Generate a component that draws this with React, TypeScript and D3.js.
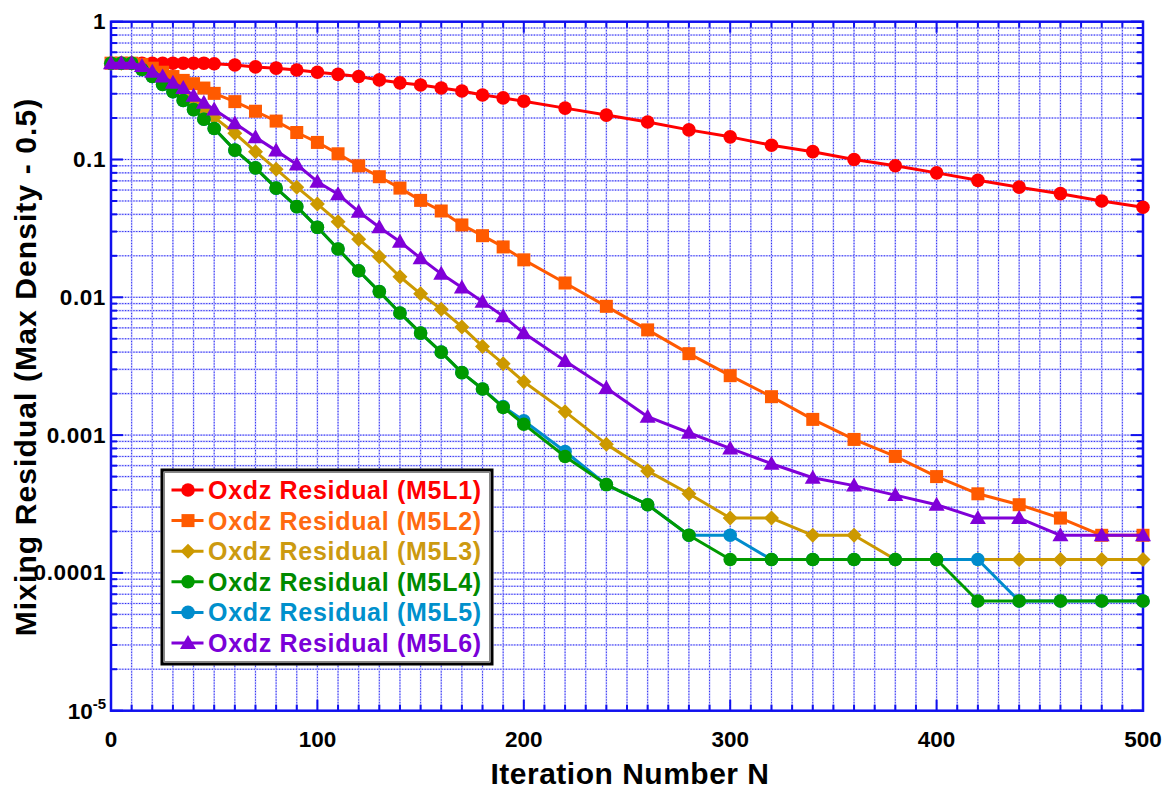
import React from "react";
import * as d3 from "d3";

const iterations = [0, 5, 10, 15, 20, 25, 30, 35, 40, 45, 50, 60, 70, 80, 90, 100, 110, 120, 130, 140, 150, 160, 170, 180, 190, 200, 220, 240, 260, 280, 300, 320, 340, 360, 380, 400, 420, 440, 460, 480, 500];

const m5l1 = [0.5, 0.5, 0.5, 0.5, 0.5, 0.5, 0.5, 0.5, 0.5, 0.5, 0.495, 0.485, 0.47, 0.46, 0.446, 0.43, 0.415, 0.4, 0.378, 0.36, 0.347, 0.33, 0.314, 0.294, 0.28, 0.265, 0.236, 0.21, 0.187, 0.164, 0.146, 0.127, 0.114, 0.1, 0.09, 0.08, 0.0706, 0.063, 0.0565, 0.05, 0.045];
const m5l2 = [0.5, 0.5, 0.5, 0.49, 0.46, 0.43, 0.4, 0.375, 0.355, 0.33, 0.302, 0.263, 0.224, 0.19, 0.157, 0.133, 0.11, 0.09, 0.075, 0.062, 0.0505, 0.0423, 0.0335, 0.028, 0.0232, 0.0187, 0.0127, 0.0086, 0.0058, 0.0039, 0.0027, 0.0019, 0.0013, 0.00093, 0.0007, 0.0005, 0.000375, 0.0003125, 0.00025, 0.0001875, 0.0001875];
const m5l3 = [0.5, 0.5, 0.5, 0.46, 0.42, 0.37, 0.33, 0.29, 0.258, 0.229, 0.202, 0.155, 0.114, 0.085, 0.063, 0.0475, 0.0354, 0.0264, 0.0197, 0.0141, 0.0106, 0.0082, 0.0061, 0.0044, 0.0033, 0.00244, 0.00148, 0.00086, 0.00055, 0.000375, 0.00025, 0.00025, 0.0001875, 0.0001875, 0.000125, 0.000125, 0.000125, 0.000125, 0.000125, 0.000125, 0.000125];
const m5l4 = [0.5, 0.5, 0.5, 0.45, 0.4, 0.35, 0.31, 0.268, 0.23, 0.196, 0.168, 0.117, 0.087, 0.062, 0.0455, 0.0322, 0.0224, 0.0156, 0.011, 0.0077, 0.0055, 0.004, 0.00284, 0.00216, 0.00159, 0.0012, 0.0007, 0.0004375, 0.0003125, 0.0001875, 0.000125, 0.000125, 0.000125, 0.000125, 0.000125, 0.000125, 0.0000625, 0.0000625, 0.0000625, 0.0000625, 0.0000625];
const m5l5 = [0.5, 0.5, 0.5, 0.45, 0.4, 0.35, 0.31, 0.268, 0.23, 0.196, 0.168, 0.117, 0.087, 0.062, 0.0455, 0.0322, 0.0224, 0.0156, 0.011, 0.0077, 0.0055, 0.004, 0.00284, 0.00216, 0.00161, 0.00127, 0.00076, 0.0004375, 0.0003125, 0.0001875, 0.0001875, 0.000125, 0.000125, 0.000125, 0.000125, 0.000125, 0.000125, 0.0000625, 0.0000625, 0.0000625, 0.0000625];
const m5l6 = [0.5, 0.5, 0.5, 0.477, 0.434, 0.4, 0.361, 0.33, 0.29, 0.258, 0.231, 0.183, 0.145, 0.116, 0.092, 0.069, 0.0559, 0.0418, 0.0322, 0.0253, 0.0192, 0.0148, 0.0118, 0.0093, 0.0073, 0.0055, 0.00345, 0.0022, 0.00136, 0.00104, 0.0008, 0.00062, 0.00049, 0.00043, 0.000367, 0.0003125, 0.00025, 0.00025, 0.0001875, 0.0001875, 0.0001875];

const seriesNames = ["Oxdz Residual (M5L1)", "Oxdz Residual (M5L2)", "Oxdz Residual (M5L3)", "Oxdz Residual (M5L4)", "Oxdz Residual (M5L5)", "Oxdz Residual (M5L6)"];
const seriesValues = [m5l1, m5l2, m5l3, m5l4, m5l5, m5l6];
const seriesColors = ["#ff0000", "#ff5a00", "#cc9900", "#009a00", "#008ccc", "#8000d8"];
const textColors = ["#ff0000", "#ff6a10", "#cc9a10", "#008a00", "#0090cc", "#7a00d8"];
const seriesMarkers = ["circle", "square", "diamond", "circle", "circle", "triangle"];
const drawOrder = [0, 1, 2, 4, 3, 5];

const xTickLabels = [0, 100, 200, 300, 400, 500];
const yTickLabels = ["1", "0.1", "0.01", "0.001", "0.0001"];

const FONT = "'Liberation Sans', Arial, Helvetica, sans-serif";
const AXIS = "#1010ee";

function Marker({ kind, x, y, color }: { kind: string; x: number; y: number; color: string }) {
  if (kind === "circle") return <circle cx={x} cy={y} r={6.8} fill={color} />;
  if (kind === "square") return <rect x={x - 6.5} y={y - 6.5} width={13} height={13} fill={color} />;
  if (kind === "diamond")
    return <path d={`M${x},${y - 7.5}L${x + 7.5},${y}L${x},${y + 7.5}L${x - 7.5},${y}Z`} fill={color} />;
  return <path d={`M${x},${y - 8}L${x + 8},${y + 6}L${x - 8},${y + 6}Z`} fill={color} />;
}

export default function App() {
  const W = 1167, H = 792;
  const x = d3.scaleLinear().domain([0, 500]).range([111, 1143]);
  const y = d3.scaleLog().domain([1e-5, 1]).range([710.7, 21.7]);
  const [x0, x1] = x.range();
  const [y0, y1] = y.range();

  const xMinor = d3.range(0, 501, 10);
  const yMinor: number[] = [];
  for (let e = -5; e < 0; e++) for (let k = 1; k <= 9; k++) yMinor.push(k * Math.pow(10, e));
  yMinor.push(1);

  const line = d3.line<[number, number]>().x((d) => x(d[0])).y((d) => y(d[1]));

  const legX = 162, legY = 470, legW = 330, legH = 194;
  const rowY0 = 490, rowStep = 30.6;

  return (
    <svg width={W} height={H} style={{ position: "absolute", left: 0, top: 0, background: "#fff" }} fontFamily={FONT}>
      <rect x={0} y={0} width={W} height={H} fill="#fff" />
      {/* grid */}
      <g>
        {xMinor.map((v) => (
          <g key={"gx" + v}>
            <line x1={x(v)} x2={x(v)} y1={y1} y2={y0} stroke="#c8c8ff" strokeWidth={1.6} />
            <line x1={x(v)} x2={x(v)} y1={y1} y2={y0} stroke="#2a2af0" strokeWidth={1} strokeDasharray="1.2,1.6" />
          </g>
        ))}
        {yMinor.map((v, i) => (
          <g key={"gy" + i}>
            <line x1={x0} x2={x1} y1={y(v)} y2={y(v)} stroke="#c8c8ff" strokeWidth={1.6} />
            <line x1={x0} x2={x1} y1={y(v)} y2={y(v)} stroke="#2a2af0" strokeWidth={1} strokeDasharray="1.2,1.6" />
          </g>
        ))}
      </g>
      {/* ticks */}
      <g stroke={AXIS} strokeWidth={2}>
        {xMinor.map((v) => {
          const len = v % 100 === 0 ? 11 : 6;
          return (
            <g key={"tx" + v}>
              <line x1={x(v)} x2={x(v)} y1={y0} y2={y0 - len} />
              <line x1={x(v)} x2={x(v)} y1={y1} y2={y1 + len} />
            </g>
          );
        })}
        {yMinor.map((v, i) => {
          const major = Math.abs(Math.log10(v) - Math.round(Math.log10(v))) < 1e-9;
          const len = major ? 12 : 6;
          return (
            <g key={"ty" + i}>
              <line x1={x0} x2={x0 + len} y1={y(v)} y2={y(v)} />
              <line x1={x1} x2={x1 - len} y1={y(v)} y2={y(v)} />
            </g>
          );
        })}
      </g>
      <rect x={x0} y={y1} width={x1 - x0} height={y0 - y1} fill="none" stroke={AXIS} strokeWidth={2.5} />

      {/* series */}
      {drawOrder.map((si) => {
        const pts: [number, number][] = iterations.map((n, i) => [n, seriesValues[si][i]]);
        return (
          <g key={"s" + si}>
            <path d={line(pts) || ""} fill="none" stroke={seriesColors[si]} strokeWidth={3} strokeLinejoin="round" />
            {pts.map((p, i) => (
              <Marker key={i} kind={seriesMarkers[si]} x={x(p[0])} y={y(p[1])} color={seriesColors[si]} />
            ))}
          </g>
        );
      })}

      {/* tick labels */}
      <g fontWeight="bold" fontSize={22.5} fill="#000">
        {xTickLabels.map((v) => (
          <text key={"xl" + v} x={x(v)} y={747} textAnchor="middle">{v}</text>
        ))}
        {yTickLabels.map((t, i) => (
          <text key={"yl" + t} x={106} y={y(Math.pow(10, -i)) + 7.5} textAnchor="end" letterSpacing={0.6}>{t}</text>
        ))}
        <text x={106} y={y(1e-5) + 8} textAnchor="end">
          10<tspan dy={-10} fontSize={15}>-5</tspan>
        </text>
      </g>

      {/* axis titles */}
      <text x={630} y={784} textAnchor="middle" fontWeight="bold" fontSize={30} letterSpacing={0.5} fill="#000">Iteration Number N</text>
      <text transform={`translate(36,367) rotate(-90)`} textAnchor="middle" fontWeight="bold" fontSize={30} letterSpacing={1.1} fill="#000">
        Mixing Residual (Max Density - 0.5)
      </text>

      {/* legend */}
      <rect x={legX} y={legY} width={legW} height={legH} fill="#fff" stroke="#000" strokeWidth={3} />
      <rect x={legX + 2.5} y={legY + 2.5} width={legW - 5} height={legH - 5} fill="none" stroke="#888" strokeWidth={1} />
      {seriesNames.map((name, i) => {
        const ry = rowY0 + i * rowStep;
        return (
          <g key={"lg" + i}>
            <line x1={171.5} x2={203.5} y1={ry} y2={ry} stroke={seriesColors[i]} strokeWidth={3} />
            <Marker kind={seriesMarkers[i]} x={188} y={ry} color={seriesColors[i]} />
            <text x={208} y={ry + 9} fontWeight="bold" fontSize={25} letterSpacing={0.7} fill={textColors[i]}>{name}</text>
          </g>
        );
      })}
    </svg>
  );
}
